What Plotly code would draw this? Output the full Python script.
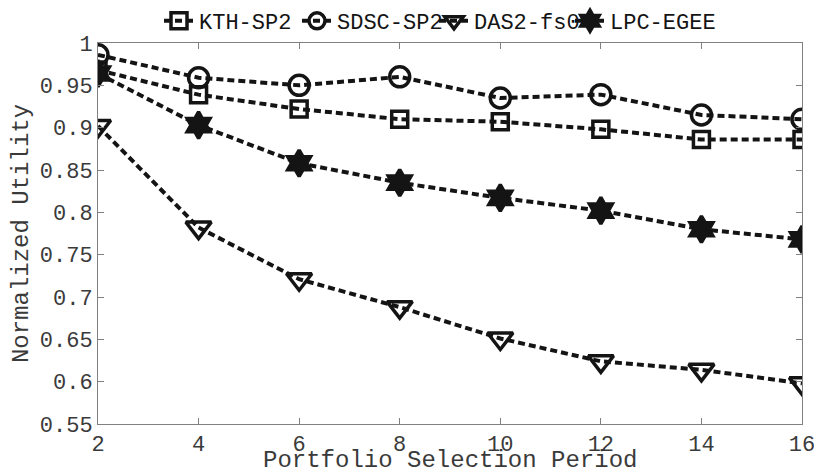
import plotly.graph_objects as go

periods = [2, 4, 6, 8, 10, 12, 14, 16]
kth_sp2 = [0.968, 0.939, 0.922, 0.910, 0.907, 0.898, 0.886, 0.886]
sdsc_sp2 = [0.986, 0.959, 0.950, 0.960, 0.935, 0.939, 0.915, 0.910]
das2_fs0 = [0.902, 0.782, 0.721, 0.688, 0.651, 0.624, 0.614, 0.598]
lpc_egee = [0.964, 0.903, 0.858, 0.835, 0.817, 0.802, 0.780, 0.768]

series_names = ["KTH-SP2", "SDSC-SP2", "DAS2-fs0", "LPC-EGEE"]
series_values = [kth_sp2, sdsc_sp2, das2_fs0, lpc_egee]
symbols = ["square-open", "circle-open", "triangle-down-open", "hexagram"]
sizes = [16, 20, 22, 20]
legend_ids = ["legend", "legend2", "legend3", "legend4"]
legend_x_px = [159, 297, 434, 570]

xtick_vals = [2, 4, 6, 8, 10, 12, 14, 16]
xtick_text = ["2", "4", "6", "8", "10", "12", "14", "16"]
ytick_vals = [0.55, 0.6, 0.65, 0.7, 0.75, 0.8, 0.85, 0.9, 0.95, 1.0]
ytick_text = ["0.55", "0.6", "0.65", "0.7", "0.75", "0.8", "0.85", "0.9", "0.95", "1"]
x_title = "Portfolio Selection Period"
y_title = "Normalized Utility"

FONT = "Liberation Mono"
INK = "#141414"
TEXT = "#3a3a3a"
AXIS = "#808080"
W, H = 814, 468
M_L, M_R, M_T, M_B = 98, 12, 43, 44

fig = go.Figure()
for name, vals, sym, sz, lg in zip(series_names, series_values, symbols, sizes, legend_ids):
    fig.add_trace(go.Scatter(
        x=periods, y=vals, name=name, mode="lines+markers", legend=lg,
        line=dict(color=INK, width=4, dash="7px,4px"),
        marker=dict(symbol=sym, size=sz, color=INK,
                    line=dict(color=INK, width=3.5)),
    ))

axis_common = dict(
    showline=True, linecolor=AXIS, linewidth=1, mirror="ticks",
    ticks="inside", ticklen=6, tickcolor=AXIS, showgrid=False, zeroline=False,
    tickfont=dict(family=FONT, size=22, color=TEXT),
    ticklabeloverflow="allow",
)

legend_layout = {}
for lg, xp in zip(legend_ids, legend_x_px):
    legend_layout[lg] = dict(
        orientation="h", xref="container", yref="container",
        x=xp / W, y=1.0, xanchor="left", yanchor="top",
        font=dict(family=FONT, size=22, color=INK),
        bgcolor="rgba(0,0,0,0)", itemwidth=30,
    )

plot_h = H - M_T - M_B
fig.update_layout(
    width=W, height=H,
    margin=dict(l=M_L, r=M_R, t=M_T, b=M_B, autoexpand=False),
    paper_bgcolor="white", plot_bgcolor="white",
    font=dict(family=FONT, color=TEXT),
    showlegend=True,
    xaxis=dict(
        range=[2, 16], tickvals=xtick_vals, ticktext=xtick_text,
        **axis_common,
    ),
    yaxis=dict(
        range=[0.55, 1.0], tickvals=ytick_vals, ticktext=ytick_text,
        title=dict(text=y_title, standoff=4,
                   font=dict(family=FONT, size=24, color=TEXT)),
        **axis_common,
    ),
    annotations=[dict(
        text=x_title, xref="paper", yref="paper",
        x=0.5, y=-(M_B + 7) / plot_h, xanchor="center", yanchor="bottom",
        borderpad=0, showarrow=False, font=dict(family=FONT, size=24, color=TEXT),
    )],
    **legend_layout,
)

fig.write_html("out.html")
